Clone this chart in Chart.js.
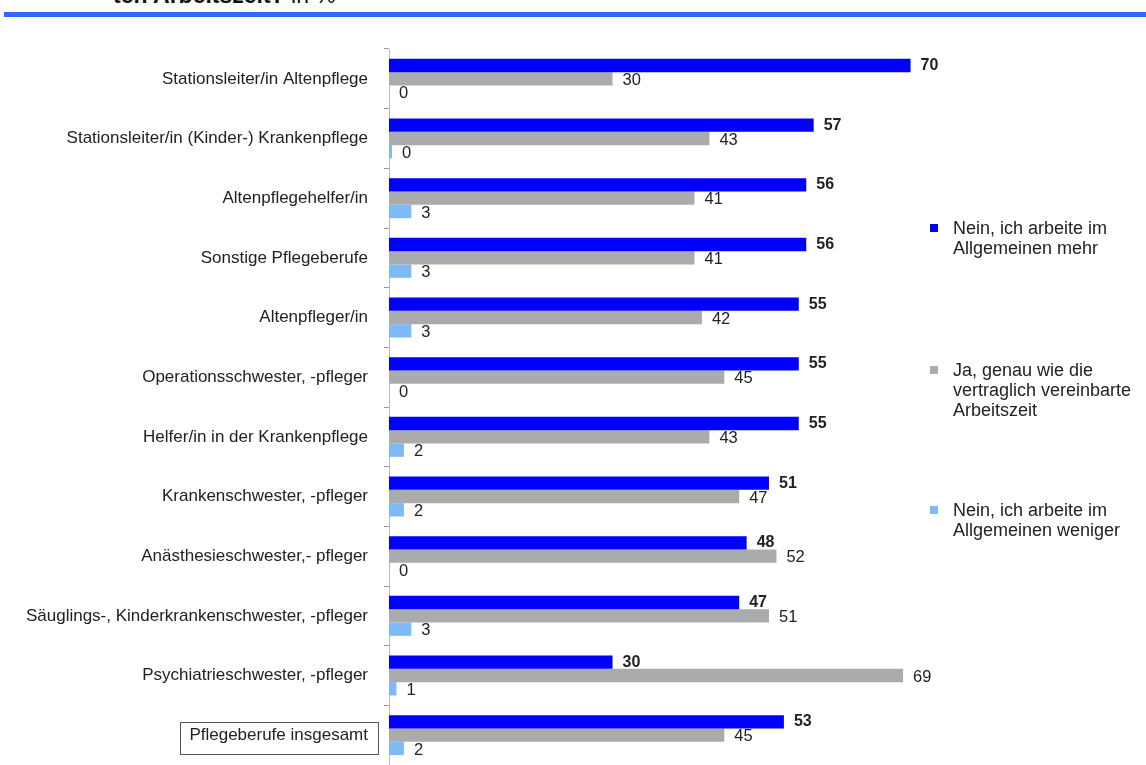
<!DOCTYPE html>
<html><head><meta charset="utf-8">
<script src="https://cdn.jsdelivr.net/npm/chart.js@4/dist/chart.umd.min.js"></script>
<style>
body{margin:0;background:#fff;width:1146px;height:765px;overflow:hidden;position:relative;font-family:"Liberation Sans",Arial,sans-serif}
#c{position:absolute;left:0;top:0}
#title{position:absolute;left:113px;top:-18px;font-size:23px;white-space:nowrap;color:#111}
#rule{position:absolute;left:4px;right:0;top:12px;height:5px;background:#3366ff}
.leg{position:absolute;left:930px;font-size:18px;line-height:20px;color:#222}
.leg .sw{position:absolute;left:0;top:6px;width:8px;height:8px}
.leg .tx{margin-left:23px;white-space:nowrap}
</style></head>
<body>
<div id="title"><b>ten Arbeitszeit?</b> in %</div>
<div id="rule"></div>
<canvas id="c" width="1146" height="765"></canvas>
<div id="legend"></div>
<script>
const categories = [
  "Stationsleiter/in Altenpflege",
  "Stationsleiter/in (Kinder-) Krankenpflege",
  "Altenpflegehelfer/in",
  "Sonstige Pflegeberufe",
  "Altenpfleger/in",
  "Operationsschwester, -pfleger",
  "Helfer/in in der Krankenpflege",
  "Krankenschwester, -pfleger",
  "Anästhesieschwester,- pfleger",
  "Säuglings-, Kinderkrankenschwester, -pfleger",
  "Psychiatrieschwester, -pfleger",
  "Pflegeberufe insgesamt"
];
const seriesNames = [
  ["Nein, ich arbeite im", "Allgemeinen mehr"],
  ["Ja, genau wie die", "vertraglich vereinbarte", "Arbeitszeit"],
  ["Nein, ich arbeite im", "Allgemeinen weniger"]
];
const mehr    = [70, 57, 56, 56, 55, 55, 55, 51, 48, 47, 30, 53];
const genau   = [30, 43, 41, 41, 42, 45, 43, 47, 52, 51, 69, 45];
const weniger = [0, 0.4, 3, 3, 3, 0, 2, 2, 0, 3, 1, 2];
const colors = ["#0000ff", "#a9abad", "#7dbaf7"];
const legendTops = [218, 360, 500];

const legend = document.getElementById('legend');
seriesNames.forEach((lines, i) => {
  const d = document.createElement('div');
  d.className = 'leg';
  d.style.top = legendTops[i] + 'px';
  d.innerHTML = '<span class="sw" style="background:' + colors[i] + '"></span><div class="tx">' + lines.join('<br>') + '</div>';
  legend.appendChild(d);
});

const FONT = '"Liberation Sans", Arial, sans-serif';
const labelPlugin = {
  id: 'vals',
  afterDatasetsDraw(chart) {
    const ctx = chart.ctx;
    ctx.save();
    ctx.textBaseline = 'middle';
    ctx.textAlign = 'left';
    chart.data.datasets.forEach((ds, di) => {
      const meta = chart.getDatasetMeta(di);
      ctx.font = (di === 0 ? 'bold 16px ' : '16.5px ') + FONT;
      ctx.fillStyle = '#222';
      meta.data.forEach((el, i) => {
        ctx.fillText(String(Math.round(ds.data[i])), el.x + 10, el.y + (di === 0 ? 0 : 1.5));
      });
    });
    ctx.restore();
  },
  afterDraw(chart) {
    const s = chart.scales.y;
    const idx = categories.length - 1;
    const y = s.getPixelForTick(idx);
    const ctx = chart.ctx;
    ctx.save();
    ctx.font = '17px ' + FONT;
    const w = ctx.measureText(categories[idx]).width;
    const textRight = s.right - 5 - 16;
    ctx.strokeStyle = '#555';
    ctx.lineWidth = 1;
    ctx.strokeRect(Math.round(textRight - w - 9) + 0.5, Math.round(y - 13) + 0.5, Math.round(w + 19), 32);
    ctx.restore();
  }
};

new Chart(document.getElementById('c'), {
  type: 'bar',
  data: {
    labels: categories,
    datasets: [
      { label: seriesNames[0].join(' '), data: mehr, backgroundColor: colors[0] },
      { label: seriesNames[1].join(' '), data: genau, backgroundColor: colors[1] },
      { label: seriesNames[2].join(' '), data: weniger, backgroundColor: colors[2] }
    ]
  },
  options: {
    indexAxis: 'y',
    responsive: false,
    devicePixelRatio: 1,
    animation: false,
    datasets: { bar: { categoryPercentage: 0.67, barPercentage: 1.0 } },
    layout: { padding: { top: 49, right: 0, bottom: 0, left: 0 } },
    plugins: { legend: { display: false }, tooltip: { enabled: false }, title: { display: false } },
    scales: {
      x: { display: false, min: 0, max: 101.6 },
      y: {
        grid: { drawOnChartArea: false, drawTicks: true, tickLength: 5, color: '#999', offset: true },
        border: { color: '#bbb' },
        ticks: { color: '#222', padding: 16, font: { size: 17, family: FONT } },
        afterFit: (s) => { s.width = 389; s.paddingTop = 0; s.paddingBottom = 0; }
      }
    }
  },
  plugins: [labelPlugin]
});
</script>
</body></html>
